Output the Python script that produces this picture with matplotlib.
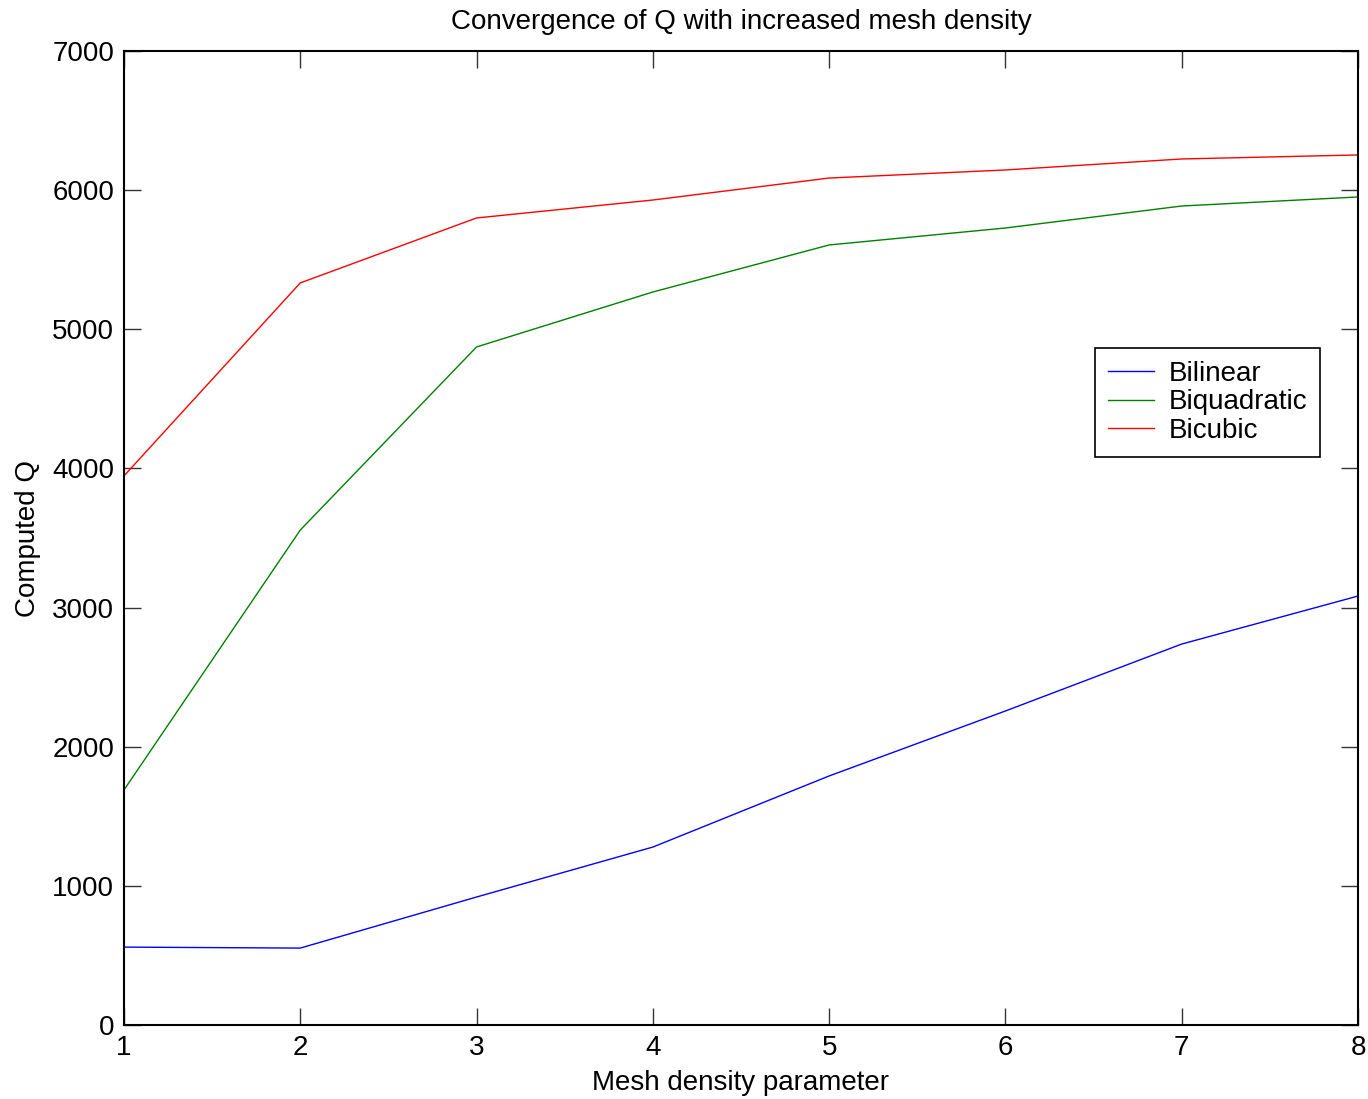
import matplotlib
matplotlib.use("Agg")
import matplotlib.pyplot as plt

plt.rcParams["font.family"] = ["Liberation Sans", "DejaVu Sans"]

mesh = [1, 2, 3, 4, 5, 6, 7, 8]
bilinear = [560, 553, 920, 1279, 1790, 2257, 2738, 3083]
biquadratic = [1689, 3557, 4873, 5268, 5606, 5728, 5886, 5951]
bicubic = [3946, 5333, 5800, 5929, 6087, 6145, 6224, 6253]

fig = plt.figure(figsize=(13.68, 10.99), dpi=100)
ax = fig.add_axes([0.0906, 0.0673, 0.9021, 0.8863])

ax.plot(mesh, bilinear, color="blue", lw=1, label="Bilinear")
ax.plot(mesh, biquadratic, color="green", lw=1, label="Biquadratic")
ax.plot(mesh, bicubic, color="red", lw=1, label="Bicubic")

ax.set_xlim(1, 8)
ax.set_ylim(0, 7000)
ax.set_xticks(range(1, 9))
ax.set_yticks(range(0, 7001, 1000))
ax.tick_params(direction="in", top=True, right=True, length=12, width=1,
               labelsize=20, pad=7, colors="#333333", labelcolor="black")
for s in ax.spines.values():
    s.set_linewidth(1.5)

ax.set_xlabel("Mesh density parameter", fontsize=20, labelpad=7)
ax.set_ylabel("Computed Q", fontsize=20, labelpad=8)
ax.set_title("Convergence of Q with increased mesh density", fontsize=20, pad=16)

leg = ax.legend(loc="upper right", bbox_to_anchor=(0.9692, 0.695), fontsize=20,
                fancybox=False, framealpha=1, edgecolor="black",
                borderaxespad=0, handlelength=1.65, borderpad=0.45,
                labelspacing=0.1, handletextpad=0.55)
leg.get_frame().set_linewidth(1.2)

fig.savefig("out.png", dpi=100)
